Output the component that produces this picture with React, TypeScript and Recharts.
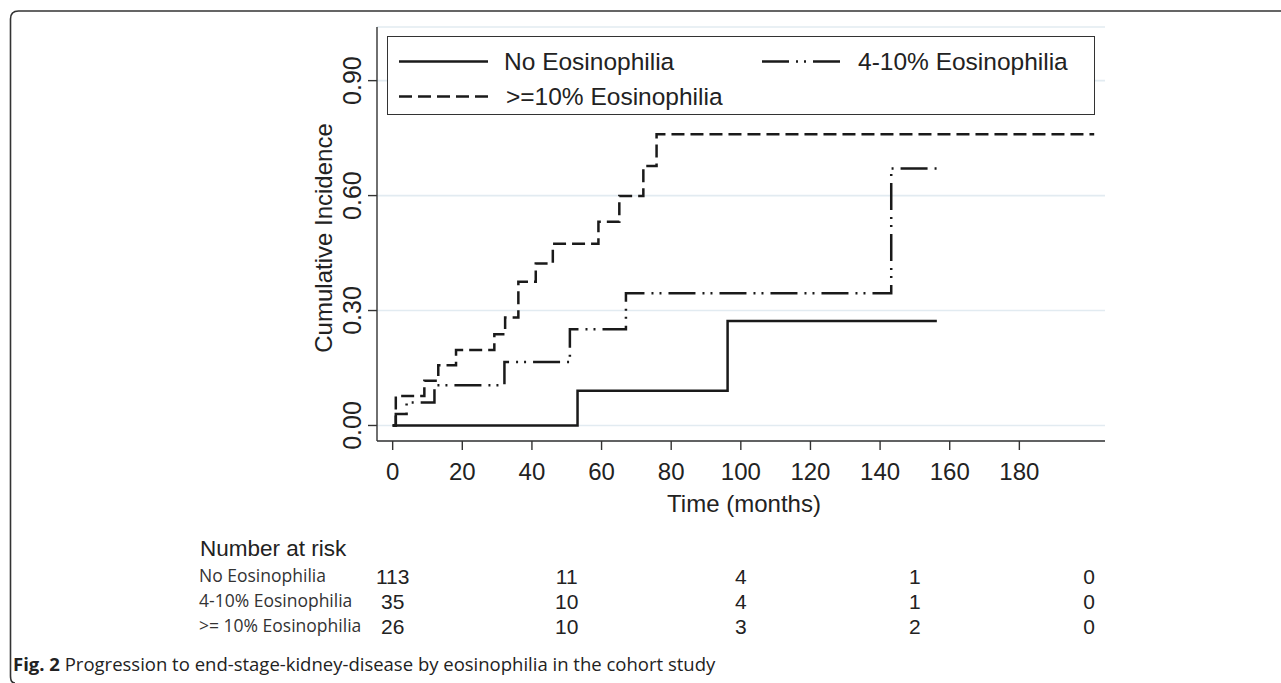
import React from 'react';
import { LineChart, Line, XAxis, YAxis, CartesianGrid, Legend } from 'recharts';

// ---- data ----
const seriesNames = ['No Eosinophilia', '4-10% Eosinophilia', '>=10% Eosinophilia'];

const noEosTime = [0, 53.1, 96.2, 156.3];
const noEosInc = [0, 0.0909, 0.2727, 0.2727];

const midEosTime = [0, 0.9, 4.0, 12.0, 32.1, 50.9, 67.0, 143.2, 157.2];
const midEosInc = [0, 0.03, 0.06, 0.105, 0.166, 0.251, 0.345, 0.671, 0.671];

const highEosTime = [0, 0.9, 9.1, 13.1, 18.2, 29.2, 32.3, 36.1, 41.1, 46.0, 59.1, 65.1, 72.0, 75.8, 201.5];
const highEosInc = [0, 0.077, 0.117, 0.157, 0.197, 0.238, 0.282, 0.375, 0.423, 0.474, 0.532, 0.599, 0.677, 0.76, 0.76];

const xTicks = [0, 20, 40, 60, 80, 100, 120, 140, 160, 180];
const yTicks = [0, 0.3, 0.6, 0.9];

const riskTimes = [0, 50, 100, 150, 200];
const riskNoEos = [113, 11, 4, 1, 0];
const riskMidEos = [35, 10, 4, 1, 0];
const riskHighEos = [26, 10, 3, 2, 0];
const riskRowLabels = ['No Eosinophilia', '4-10% Eosinophilia', '>= 10% Eosinophilia'];

const toPoints = (ts: number[], vs: number[]) => ts.map((t, i) => ({ t, v: vs[i] }));
const noEosData = toPoints(noEosTime, noEosInc);
const midEosData = toPoints(midEosTime, midEosInc);
const highEosData = toPoints(highEosTime, highEosInc);

// ---- styles ----
const INK = '#1a1a1a';
const AXIS = '#333';
const GRID = '#e2ebf1';
const SANS = '"Liberation Sans", Arial, Helvetica, sans-serif';
const CAPTION_FONT = '"Open Sans", "Noto Sans", sans-serif';
const DASH_MID = '27 7 2 6 2 7';
const DASH_HIGH = '13 6';
const seriesDash = [undefined, DASH_MID, DASH_HIGH];

const XTick = (props: any) => {
  const { x, y, payload } = props;
  return (
    <text x={x} y={y + 21.5} dy="0.36em" textAnchor="middle" fontFamily={SANS} fontSize={24} fill="#222">
      {payload.value}
    </text>
  );
};

const YTick = (props: any) => {
  const { x, y, payload } = props;
  return (
    <text
      transform={`translate(${x - 16}, ${y}) rotate(-90)`}
      x={0}
      y={0}
      dy="0.36em"
      textAnchor="middle"
      fontFamily={SANS}
      fontSize={25}
      fill="#222"
    >
      {Number(payload.value).toFixed(2)}
    </text>
  );
};

const riskRows = [riskNoEos, riskMidEos, riskHighEos];

const RiskTick = (props: any) => {
  const { x, y, index } = props;
  const rowOffsets = [55, 80, 105];
  return (
    <g>
      {index === 0 && (
        <g>
          <text x={200} y={y + 27} dy="0.36em" fontFamily={SANS} fontSize={22.5} fill="#222">
            Number at risk
          </text>
          {riskRowLabels.map((lab, r) => (
            <text key={lab} x={199} y={y + rowOffsets[r]} dy="0.36em" fontFamily={CAPTION_FONT} fontSize={17.5} fill="#333">
              {lab}
            </text>
          ))}
        </g>
      )}
      {riskRows.map((row, r) => (
        <text key={r} x={x} y={y + rowOffsets[r]} dy="0.36em" textAnchor="middle" fontFamily={SANS} fontSize={21} fill="#222">
          {row[index]}
        </text>
      ))}
    </g>
  );
};

const LegendBox = () => {
  const rows = [
    { name: seriesNames[0], dash: seriesDash[0], lx: 11, len: 89, tx: 116, y: 24.5 },
    { name: seriesNames[1], dash: seriesDash[1], lx: 374, len: 84, tx: 470, y: 24.5 },
    { name: seriesNames[2], dash: seriesDash[2], lx: 11, len: 89, tx: 118, y: 59.5 },
  ];
  return (
    <div style={{ width: 708, height: 79, border: `1.5px solid ${AXIS}`, boxSizing: 'border-box', background: '#fff' }}>
      <svg width={705} height={76} style={{ display: 'block' }}>
        {rows.map((r) => (
          <g key={r.name}>
            <line x1={r.lx} x2={r.lx + r.len} y1={r.y} y2={r.y} stroke={INK} strokeWidth={2.4} strokeDasharray={r.dash} />
            <text x={r.tx} y={r.y} dy="0.36em" fontFamily={SANS} fontSize={24.5} fill="#222">
              {r.name}
            </text>
          </g>
        ))}
      </svg>
    </div>
  );
};

const YTitle = (props: any) => {
  const vb = props.viewBox || { x: 307, y: 27, width: 70, height: 414 };
  const cx = vb.x + 16;
  const cy = vb.y + vb.height / 2 + 4;
  return (
    <text transform={`translate(${cx}, ${cy}) rotate(-90)`} x={0} y={0} dy="0.36em" textAnchor="middle" fontFamily={SANS} fontSize={24} fill="#222">
      Cumulative Incidence
    </text>
  );
};

const XTitle = (props: any) => {
  const vb = props.viewBox || { x: 377, y: 441, width: 728, height: 80 };
  return (
    <text x={vb.x + vb.width / 2 + 3} y={vb.y + 62} dy="0.36em" textAnchor="middle" fontFamily={SANS} fontSize={24} fill="#222">
      Time (months)
    </text>
  );
};

export default function App() {
  return (
    <div style={{ position: 'absolute', left: 0, top: 0, width: 1281, height: 683, background: '#fff' }}>
      <svg width={1281} height={683} style={{ position: 'absolute', left: 0, top: 0 }}>
        <path d="M 10.5 676 L 10.5 19 Q 10.5 11 18.5 11 L 1281 11" fill="none" stroke="#333" strokeWidth={1.6} />
        <path d="M 10.5 676 Q 10.5 683 15 683" fill="none" stroke="#333" strokeWidth={1.6} />
        <text x={13} y={664} dy="0.36em" fontFamily={CAPTION_FONT} fontSize={18.5} fill="#222">
          <tspan fontWeight="bold">Fig. 2</tspan>
          <tspan> Progression to end-stage-kidney-disease by eosinophilia in the cohort study</tspan>
        </text>
      </svg>
      <div style={{ position: 'absolute', left: 0, top: 0 }}>
        <LineChart width={1281} height={683} margin={{ top: 27, right: 176, left: 307, bottom: 42 }}>
          <CartesianGrid vertical={false} stroke={GRID} strokeWidth={1.6} />
          <XAxis
            dataKey="t"
            type="number"
            domain={[-4.5, 204.6]}
            ticks={xTicks}
            allowDataOverflow
            height={80}
            stroke={AXIS}
            strokeWidth={1.4}
            tickSize={9}
            tickMargin={0}
            tick={<XTick />}
            label={<XTitle />}
          />
          <XAxis
            xAxisId="risk"
            dataKey="t"
            type="number"
            domain={[-4.5, 204.6]}
            ticks={riskTimes}
            allowDataOverflow
            height={120}
            axisLine={false}
            tickLine={false}
            tickSize={0}
            tickMargin={0}
            tick={<RiskTick />}
          />
          <YAxis
            type="number"
            domain={[-0.0405, 1.04]}
            ticks={yTicks}
            allowDataOverflow
            width={70}
            stroke={AXIS}
            strokeWidth={1.4}
            tickSize={9}
            tickMargin={0}
            tick={<YTick />}
            label={<YTitle />}
          />
          <Legend
            layout="vertical"
            verticalAlign="middle"
            align="center"
            wrapperStyle={{ position: 'absolute', left: 387, top: 36, width: 708, height: 79 }}
            content={<LegendBox />}
          />
          <Line data={noEosData} dataKey="v" name={seriesNames[0]} type="stepAfter" stroke={INK} strokeWidth={2.5} dot={false} activeDot={false} isAnimationActive={false} />
          <Line data={midEosData} dataKey="v" name={seriesNames[1]} type="stepAfter" stroke={INK} strokeWidth={2.5} strokeDasharray={DASH_MID} dot={false} activeDot={false} isAnimationActive={false} />
          <Line data={highEosData} dataKey="v" name={seriesNames[2]} type="stepAfter" stroke={INK} strokeWidth={2.5} strokeDasharray={DASH_HIGH} dot={false} activeDot={false} isAnimationActive={false} />
        </LineChart>
      </div>
    </div>
  );
}
